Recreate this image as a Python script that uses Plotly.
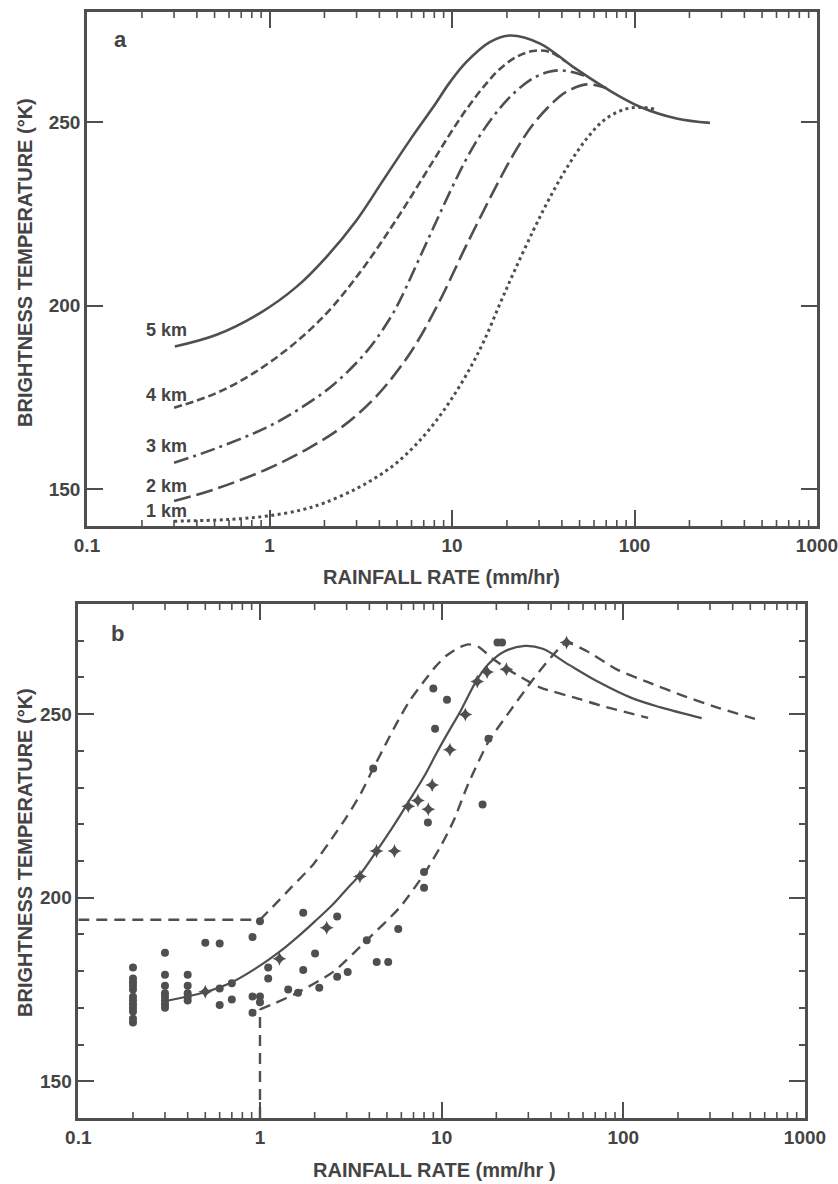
import plotly.graph_objects as go

# ---------------- Panel a : model curves for freezing-level heights ----------------
x_5km = [0.303, 0.513, 0.887, 1.41, 2.06, 3.0, 4.2, 5.88, 7.89, 9.75, 12, 16.1, 20.8, 30.4, 46.2, 70.3, 107, 170, 259]
y_5km = [188.9, 192.1, 198.0, 205.2, 213.4, 223.3, 234.2, 245.1, 254.1, 260.9, 266.4, 271.8, 273.6, 271.4, 265.0, 259.1, 254.2, 251.0, 249.8]

x_4km = [0.3, 0.5, 0.78, 1.19, 1.67, 2.24, 3.4, 5.19, 7.9, 9.75, 12, 15, 18.3, 23, 27.9, 34, 42]
y_4km = [172.2, 176.0, 181.0, 187.3, 193.5, 200.0, 211.5, 225.0, 239.5, 246.8, 253.5, 259.8, 264.5, 268.0, 269.4, 269.2, 266.5]

x_3km = [0.3, 0.5, 0.96, 1.47, 2.24, 3.4, 4.57, 5.2, 7.0, 9.75, 12, 14.5, 18.3, 22.5, 27.9, 34, 39, 46, 53]
y_3km = [157.2, 161.0, 166.8, 172.0, 178.5, 187.5, 196.5, 201.6, 215.5, 231.0, 240.0, 247.0, 253.8, 258.5, 262.0, 263.7, 264.1, 263.6, 262.7]

x_2km = [0.3, 0.5, 0.96, 1.6, 2.53, 3.86, 5.88, 8.4, 12, 18.3, 22.5, 27.9, 36, 42.5, 54.7, 70]
y_2km = [146.8, 150.0, 155.4, 160.9, 167.2, 175.4, 187.0, 200.5, 216.5, 234.5, 242.5, 249.5, 255.5, 258.3, 260.3, 259.3]

x_1km = [0.3, 0.5, 0.7, 1.0, 1.5, 2.0, 3.0, 4.0, 5.0, 6.3, 8.0, 10, 12.5, 15, 18.3, 22, 27.9, 34, 42.5, 54.7, 70, 90, 110, 128]
y_1km = [141.3, 141.6, 142.0, 142.8, 144.4, 146.3, 150.2, 153.8, 157.3, 162.0, 168.0, 174.8, 182.8, 190.5, 200.5, 209.5, 220.5, 229.0, 237.5, 245.5, 251.0, 253.6, 254.0, 253.6]

km_labels = ["5 km", "4 km", "3 km", "2 km", "1 km"]
km_label_y = [193.5, 175.8, 161.7, 151.0, 144.2]

# ---------------- Panel b : observations and fitted curves ----------------
x_fit = [0.3, 0.5, 0.7, 1.0, 1.3, 1.6, 2.0, 2.5, 3.0, 3.55, 4.38, 5.5, 6.55, 8.0, 9.4, 11, 12.6, 15.5, 18, 22, 28.7, 36, 50, 74, 110, 159, 270]
y_fit = [171.8, 174.3, 177.0, 181.5, 185.5, 189.2, 193.5, 198.0, 202.3, 206.3, 212.7, 220.0, 226.0, 233.0, 239.5, 245.5, 250.5, 259.0, 263.5, 267.0, 268.6, 267.8, 263.5, 258.6, 254.5, 251.9, 248.9]

x_upper = [0.1, 1.0, 1.2, 1.5, 1.96, 2.43, 3.0, 3.6, 4.2, 5.0, 5.65, 6.7, 7.9, 9.2, 10.6, 12.3, 14, 16, 19.2, 24.8, 34.7, 57.7, 74.3, 137]
y_upper = [194.0, 194.0, 198.0, 203.0, 209.0, 215.4, 222.0, 228.5, 235.2, 242.5, 247.5, 253.8, 258.6, 262.8, 265.9, 268.0, 269.0, 268.3, 265.0, 261.3, 257.3, 254.1, 252.4, 249.0]

x_lower = [1.0, 1.0, 1.2, 1.59, 2.53, 3.87, 5.89, 8.1, 10, 11.6, 14, 18.1, 22.8, 31.9, 40, 48.7, 62.8, 91.8, 140, 214, 330, 530]
y_lower = [140.0, 169.6, 171.2, 174.0, 179.8, 188.4, 197.4, 206.8, 214.5, 220.8, 231.0, 242.5, 249.6, 259.5, 265.5, 269.4, 267.2, 262.2, 258.5, 255.0, 251.8, 248.7]

circ_x = [0.2, 0.2, 0.2, 0.2, 0.2, 0.2, 0.2, 0.2, 0.2, 0.2, 0.2, 0.2,
          0.3, 0.3, 0.3, 0.3, 0.3, 0.3, 0.3, 0.3,
          0.4, 0.4, 0.4, 0.4, 0.4,
          0.5, 0.6, 0.6, 0.6, 0.7, 0.7, 0.91, 0.91, 0.91, 1.0, 1.0, 1.0,
          1.11, 1.11, 1.43, 1.62, 1.73, 1.73, 2.01, 2.12, 2.66, 2.66, 3.04,
          3.87, 4.39, 5.08, 5.77, 4.2, 8.0, 8.0, 8.4, 9.0, 10.7, 9.2, 16.8, 18.1, 20.3, 21.5]
circ_y = [181, 178, 177, 176, 175, 173, 172, 171, 170, 169, 167, 166,
          185, 179, 176, 174, 173, 172, 171, 170,
          179, 176, 174, 173, 172,
          187.7, 187.5, 175.3, 170.8, 176.7, 172.3, 189.3, 173.1, 168.7, 193.6, 173.1, 171.5,
          181.0, 178.0, 175.0, 174.1, 195.9, 180.3, 184.8, 175.5, 194.9, 178.5, 179.8,
          188.4, 182.5, 182.5, 191.5, 235.2, 207.0, 202.7, 220.5, 257.0, 253.9, 246.0, 225.4, 243.3, 269.5, 269.5]

cross_x = [0.5, 1.28, 2.33, 3.55, 4.38, 5.5, 6.55, 7.4, 8.44, 8.87, 11.1, 13.5, 15.7, 17.8, 22.7, 48.7]
cross_y = [174.4, 183.4, 191.8, 205.8, 212.7, 212.7, 224.9, 226.5, 224.1, 230.7, 240.3, 249.9, 258.9, 261.5, 262.2, 269.5]

# ticks
x_major = [0.1, 1, 10, 100, 1000]
x_major_text = ["0.1", "1", "10", "100", "1000"]
x_minor = [0.2, 0.3, 0.4, 0.5, 0.6, 0.7, 0.8, 0.9, 2, 3, 4, 5, 6, 7, 8, 9,
           20, 30, 40, 50, 60, 70, 80, 90, 200, 300, 400, 500, 600, 700, 800, 900]
y_major = [150, 200, 250]
y_minor_b = [140, 160, 170, 180, 190, 210, 220, 230, 240, 260, 270, 280]

# ---------------- styling ----------------
W, H = 838, 1184
INK = "#4f4f4f"
TXT = "#444444"
FONT = "Liberation Sans, Arial, sans-serif"
LW = 2.6
PANEL_H = 514  # plot-area height in px (both panels)

fig = go.Figure()

def line(x, y, dash, xa, ya, width=LW, smoothing=1.0, shape="spline"):
    ln = dict(color=INK, width=width, dash=dash, shape=shape)
    if shape == "spline":
        ln["smoothing"] = smoothing
    fig.add_trace(go.Scatter(x=x, y=y, mode="lines", xaxis=xa, yaxis=ya, line=ln,
                             showlegend=False, hoverinfo="skip"))

line(x_5km, y_5km, "solid", "x", "y")
line(x_4km, y_4km, "8px,4px", "x", "y")
line(x_3km, y_3km, "15px,5px,3px,5px", "x", "y")
line(x_2km, y_2km, "17px,6px", "x", "y")
line(x_1km, y_1km, "3px,3.5px", "x", "y", width=3.0)

line(x_fit, y_fit, "solid", "x2", "y2", width=2.2)
# straight legs of the envelope curves, then the curved parts
line(x_upper[:2], y_upper[:2], "11px,7px", "x2", "y2", width=2.4, shape="linear")
line(x_upper[1:], y_upper[1:], "11px,7px", "x2", "y2", width=2.4, smoothing=0.6)
line(x_lower[:2], y_lower[:2], "11px,7px", "x2", "y2", width=2.4, shape="linear")
line(x_lower[1:], y_lower[1:], "11px,7px", "x2", "y2", width=2.4, smoothing=0.6)

fig.add_trace(go.Scatter(x=circ_x, y=circ_y, mode="markers", xaxis="x2", yaxis="y2",
                         marker=dict(symbol="circle", size=8, color=INK, line=dict(width=0)),
                         showlegend=False, hoverinfo="skip"))
fig.add_trace(go.Scatter(x=cross_x, y=cross_y, mode="markers", xaxis="x2", yaxis="y2",
                         marker=dict(symbol="star-diamond", size=10, color=INK, line=dict(width=0)),
                         showlegend=False, hoverinfo="skip"))

tickfont = dict(family=FONT, size=19, color=TXT, weight=700)

def xaxis(domain, anchor):
    return dict(type="log", range=[-1, 3], domain=domain, anchor=anchor,
                showgrid=False, zeroline=False, showline=True, linecolor=INK, linewidth=2.5,
                mirror="ticks", ticks="inside", ticklen=16, tickwidth=2, tickcolor=INK,
                tickmode="array", tickvals=x_major, ticktext=x_major_text, tickfont=tickfont,
                ticklabeloverflow="allow")

def yaxis(domain, anchor, minor_vals=None):
    d = dict(range=[140, 280], domain=domain, anchor=anchor,
             showgrid=False, zeroline=False, showline=True, linecolor=INK, linewidth=2.5,
             mirror="ticks", ticks="inside", ticklen=16, tickwidth=2, tickcolor=INK,
             tickmode="array", tickvals=y_major, ticktext=[str(v) for v in y_major],
             tickfont=tickfont, ticklabeloverflow="allow")
    if minor_vals:
        d["minor"] = dict(ticks="inside", ticklen=6, tickwidth=1.6, tickcolor=INK,
                          tickmode="array", tickvals=minor_vals)
    return d

xa_dom = [87 / W, 817 / W]
xb_dom = [78.3 / W, 805 / W]
fig.update_layout(
    width=W, height=H, margin=dict(l=0, r=0, t=0, b=0, autoexpand=False),
    paper_bgcolor="white", plot_bgcolor="white",
    xaxis=xaxis(xa_dom, "y"),
    yaxis=yaxis([1 - 526 / H, 1 - 12 / H], "x"),
    xaxis2=xaxis(xb_dom, "y2"),
    yaxis2=yaxis([1 - 1118 / H, 1 - 604 / H], "x2", y_minor_b),
)

# minor log ticks (bottom and top edges of each panel)
shapes = []
tl = 6 / PANEL_H
for xr, yr in (("x", "y domain"), ("x2", "y2 domain")):
    for v in x_minor:
        shapes.append(dict(type="line", xref=xr, yref=yr, x0=v, x1=v, y0=0, y1=tl,
                           line=dict(color=INK, width=1.6)))
        shapes.append(dict(type="line", xref=xr, yref=yr, x0=v, x1=v, y0=1, y1=1 - tl,
                           line=dict(color=INK, width=1.6)))
fig.update_layout(shapes=shapes)

ann = []
titlefont = dict(family=FONT, size=20, color=TXT, weight=700)
ann.append(dict(text="BRIGHTNESS TEMPERATURE (°K)", x=25 / W, y=1 - 263 / H, xref="paper", yref="paper",
                textangle=-90, showarrow=False, font=titlefont, xanchor="center", yanchor="middle"))
ann.append(dict(text="BRIGHTNESS TEMPERATURE (°K)", x=25 / W, y=1 - 853 / H, xref="paper", yref="paper",
                textangle=-90, showarrow=False, font=titlefont, xanchor="center", yanchor="middle"))
ann.append(dict(text="RAINFALL RATE (mm/hr)", x=441 / W, y=1 - 577 / H, xref="paper", yref="paper",
                showarrow=False, font=titlefont, xanchor="center", yanchor="middle"))
ann.append(dict(text="RAINFALL RATE (mm/hr )", x=435 / W, y=1 - 1170 / H, xref="paper", yref="paper",
                showarrow=False, font=titlefont, xanchor="center", yanchor="middle"))
ann.append(dict(text="a", x=120 / W, y=1 - 40 / H, xref="paper", yref="paper", showarrow=False,
                font=dict(family=FONT, size=22, color=TXT, weight=700), xanchor="center", yanchor="middle"))
ann.append(dict(text="b", x=117 / W, y=1 - 633 / H, xref="paper", yref="paper", showarrow=False,
                font=dict(family=FONT, size=22, color=TXT, weight=700), xanchor="center", yanchor="middle"))
for lab, yy in zip(km_labels, km_label_y):
    ann.append(dict(text=lab, x=-0.69, y=yy, xref="x", yref="y", showarrow=False,
                    font=dict(family=FONT, size=18, color=TXT, weight=700),
                    xanchor="left", yanchor="middle"))
fig.update_layout(annotations=ann)

fig.write_html("out.html", config={"displayModeBar": False},
               post_script="document.body.style.margin='0px';document.body.style.overflow='hidden';")
